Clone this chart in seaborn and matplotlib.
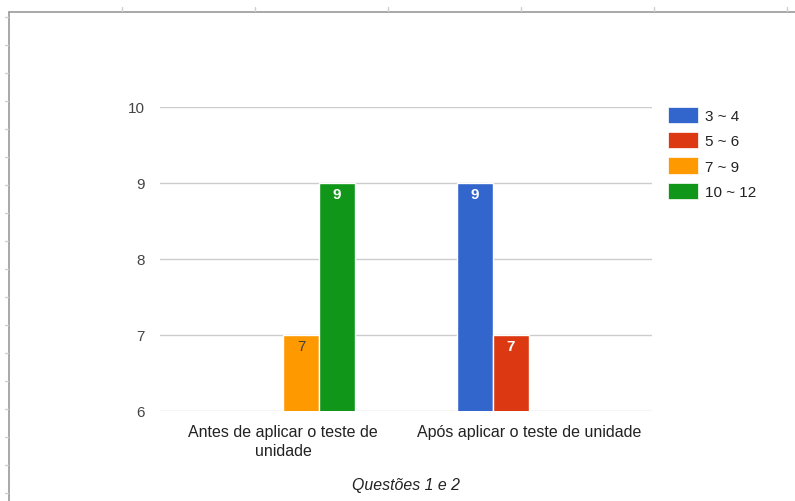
import pandas as pd
import numpy as np
import matplotlib
matplotlib.use("Agg")
import matplotlib.pyplot as plt
import seaborn as sns
from matplotlib.lines import Line2D
from matplotlib.patches import Patch

categories = ["Antes de aplicar o teste de\nunidade", "Após aplicar o teste de unidade"]
series = ["3 ~ 4", "5 ~ 6", "7 ~ 9", "10 ~ 12"]
values_3_4 = [0, 9]
values_5_6 = [0, 7]
values_7_9 = [7, 0]
values_10_12 = [9, 0]
colors = ["#3366cc", "#dc3912", "#ff9900", "#109618"]
label_colors = ["white", "white", "#404040", "white"]

rows = []
for name, vals in zip(series, [values_3_4, values_5_6, values_7_9, values_10_12]):
    for cat, v in zip(categories, vals):
        rows.append({"categoria": cat, "faixa": name, "valor": v})
df = pd.DataFrame(rows)

sns.set_theme(style="white")
plt.rcParams["font.family"] = ["Liberation Sans", "DejaVu Sans"]

fig = plt.figure(figsize=(7.95, 5.02), dpi=100)
ax = fig.add_axes([160 / 795, 1 - 412 / 502, 492 / 795, 304 / 502])

sns.barplot(data=df, x="categoria", y="valor", hue="faixa", order=categories,
            hue_order=series, palette=colors, width=0.585, edgecolor="white",
            linewidth=1, saturation=1, legend=False, ax=ax)

ax.set_ylim(6, 10)
ax.set_yticks([6, 7, 8, 9, 10])
ax.yaxis.grid(True, color="#cccccc", linewidth=1)
ax.set_axisbelow(True)
sns.despine(ax=ax, left=True, bottom=True, top=True, right=True)
ax.tick_params(axis="y", length=0, pad=11, labelsize=11, labelcolor="#444444")
ax.tick_params(axis="x", length=0, pad=9, labelsize=11.5, labelcolor="#222222")
for t in ax.get_xticklabels():
    t.set_linespacing(1.35)
ax.set_ylabel("")
ax.set_xlabel("Questões 1 e 2", fontsize=11.4, style="italic", color="#222222", labelpad=14)

# data labels inside the bars
for cont, tc in zip(ax.containers, label_colors):
    for bar in cont:
        h = bar.get_height()
        if h > 6:
            ax.text(bar.get_x() + bar.get_width() / 2, h - 0.145, f"{h:g}",
                    ha="center", va="center", color=tc, fontsize=11,
                    fontweight="normal" if tc != "white" else "bold")

handles = [Patch(facecolor=c, edgecolor="white", linewidth=0.5) for c in colors]
fig.legend(handles, series, loc="upper left", bbox_to_anchor=(657 / 795, 1 - 97 / 502),
           frameon=False, fontsize=11, handlelength=2.0, handleheight=1.25,
           handletextpad=0.45, labelspacing=0.6, labelcolor="#222222",
           borderaxespad=0.3)

# spreadsheet frame around the chart
fig.add_artist(Line2D([8.5 / 795, 1], [1 - 12.5 / 502, 1 - 12.5 / 502], color="#9a9a9a", lw=1.2))
fig.add_artist(Line2D([8.5 / 795, 8.5 / 795], [0, 1 - 12.5 / 502], color="#9a9a9a", lw=1.2))
for xp in [122, 255, 388, 521, 654, 787]:
    fig.add_artist(Line2D([xp / 795, xp / 795], [1 - 8 / 502, 1 - 12 / 502], color="#cfcfcf", lw=1))
for yp in range(18, 502, 28):
    fig.add_artist(Line2D([5 / 795, 8 / 795], [1 - yp / 502, 1 - yp / 502], color="#cfcfcf", lw=1))

fig.savefig("out.png", dpi=100)
